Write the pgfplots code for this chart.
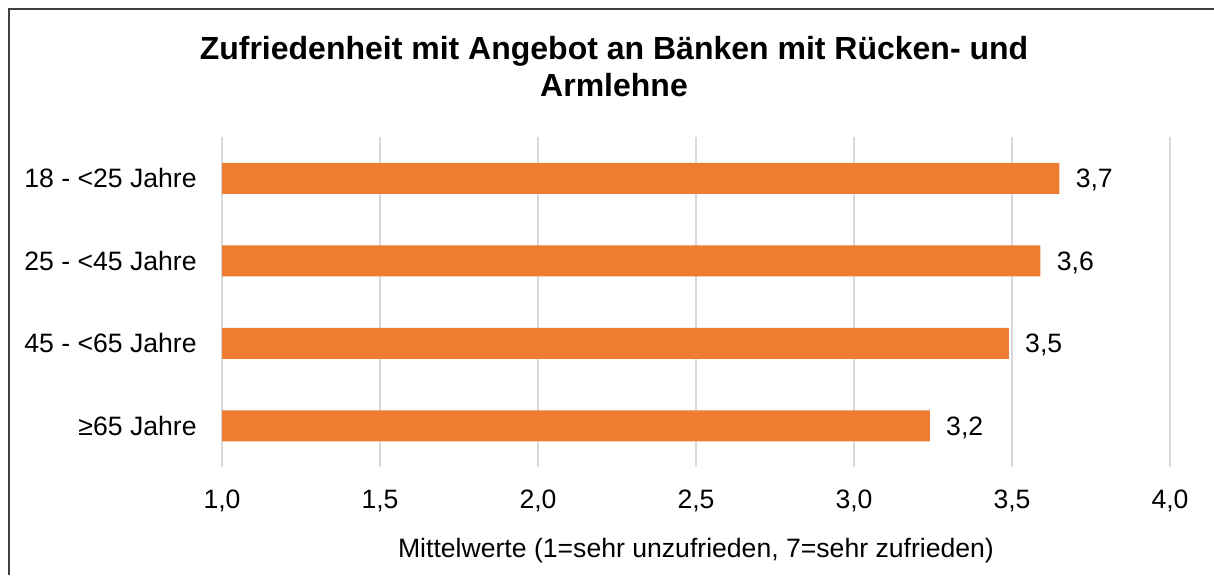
\documentclass[border=0pt]{standalone}
\usepackage{pgfplots}
\pgfplotsset{compat=1.18}
\usepackage{pgfplotstable}
\usepackage{fontspec}
\setmainfont{Liberation Sans}

\definecolor{barorange}{HTML}{ED7D31}
\definecolor{gridgray}{HTML}{D9D9D9}
\definecolor{framegray}{HTML}{404040}

% y: 0 = >=65, 3 = 18-<25
\pgfplotstableread{
y  val   lab
0  3.24  3,2
1  3.49  3,5
2  3.59  3,6
3  3.65  3,7
}\mittelwerte

\begin{document}
\begin{tikzpicture}
	\useasboundingbox (0,0) rectangle (607pt,287.5pt);
	% Rahmen (unten und rechts abgeschnitten)
	\draw [framegray, line width=0.9pt] (4.5pt,0) -- (4.5pt,283pt) -- (607pt,283pt);

	\node [anchor=base, font=\fontsize{16}{19}\selectfont\bfseries] at (307pt,257.9pt)
		{Zufriedenheit mit Angebot an Bänken mit Rücken- und};
	\node [anchor=base, font=\fontsize{16}{19}\selectfont\bfseries] at (307pt,239.5pt)
		{Armlehne};

	\begin{axis}[
	at={(111pt,54pt)},
	anchor=south west,
	scale only axis,
	width=474pt,
	height=165pt,
	xbar,
	bar width=15.5pt,
	xmin=1, xmax=4,
	ymin=-0.5, ymax=3.5,
	xtick={1,1.5,...,4},
	ytick={0,1,2,3},
	yticklabels={≥65 Jahre, 45 - <65 Jahre, 25 - <45 Jahre, 18 - <25 Jahre},
	xmajorgrids,
	grid style={gridgray, line width=0.75pt},
	axis line style={draw=none},
	major tick length=0pt,
	tick label style={font=\fontsize{13.3}{15}\selectfont},
	/pgf/number format/.cd, fixed, fixed zerofill, precision=1, use comma, assume math mode=true,
	/pgfplots/.cd,
	xticklabel style={anchor=base, inner sep=0pt, yshift=-20.8pt},
	yticklabel style={anchor=east, inner sep=0pt, xshift=-12.5pt},
	xlabel={Mittelwerte (1=sehr unzufrieden, 7=sehr zufrieden)},
	xlabel style={at={(axis description cs:0.5,0)}, anchor=base, inner sep=0pt,
		yshift=-45pt, font=\fontsize{13.3}{15}\selectfont},
	point meta=explicit symbolic,
	nodes near coords,
	nodes near coords style={anchor=base west, inner sep=0pt, xshift=8pt, yshift=-4.76pt,
		font=\fontsize{13.3}{15}\selectfont, black},
	]
	\addplot [fill=barorange, draw=none] table [x=val, y=y, meta=lab] {\mittelwerte};
	\end{axis}
\end{tikzpicture}
\end{document}
